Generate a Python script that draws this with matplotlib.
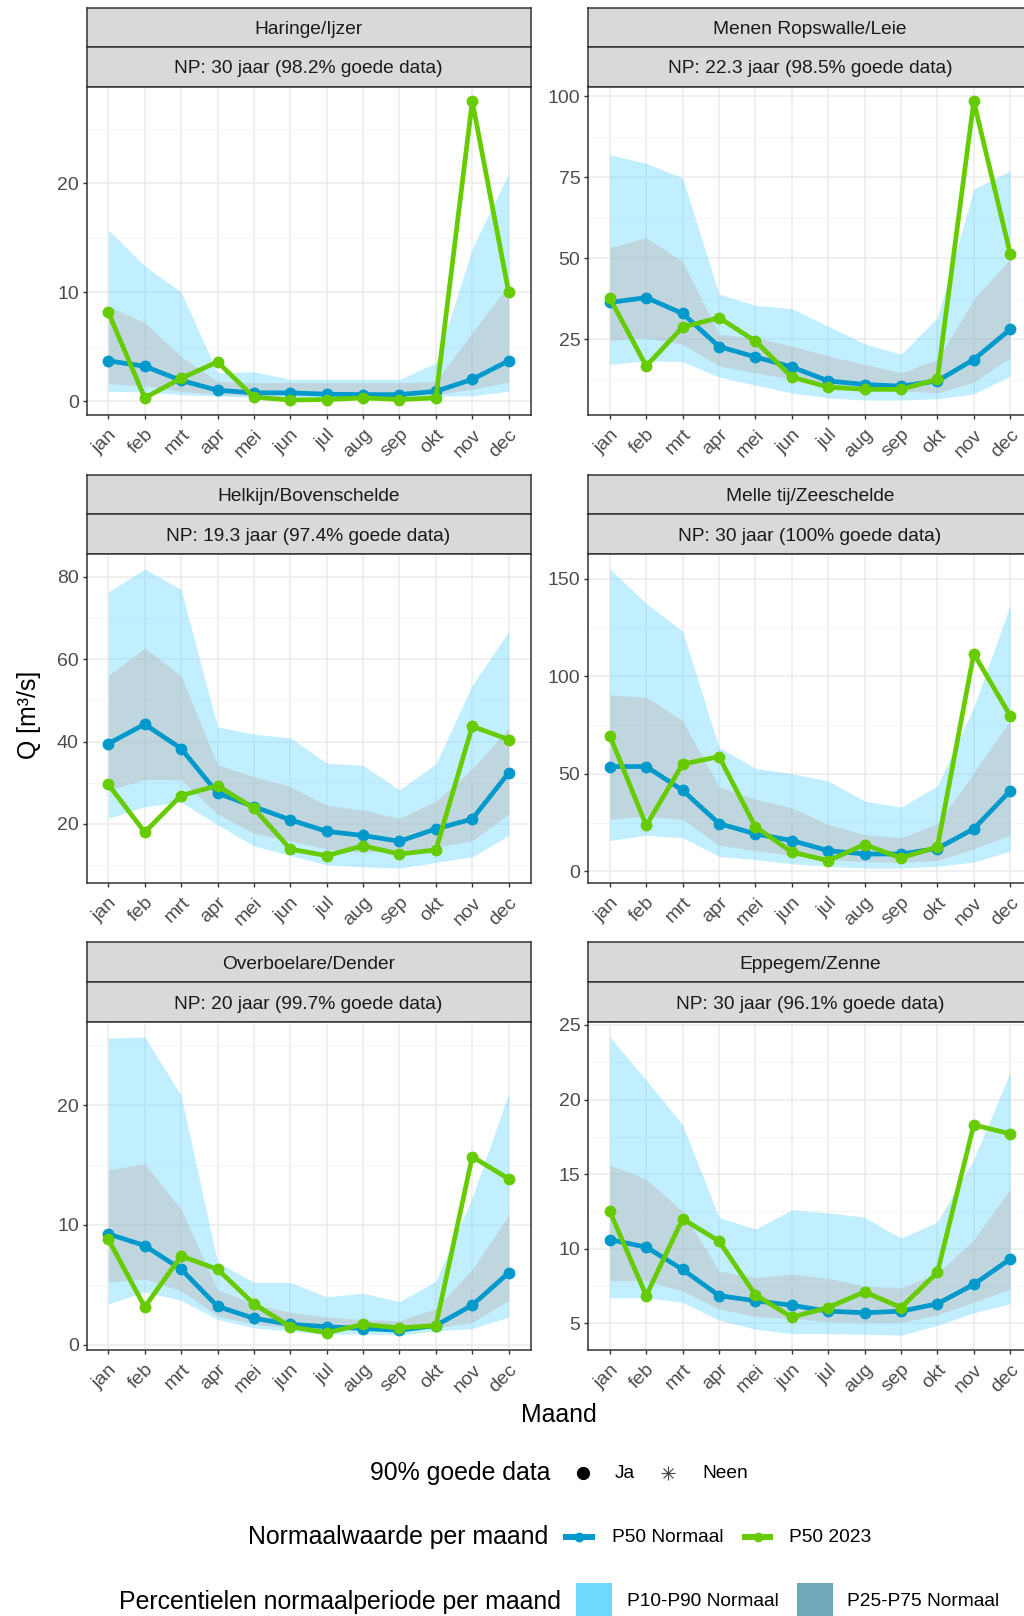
import matplotlib.pyplot as plt
from matplotlib.ticker import MultipleLocator
from matplotlib.patches import Rectangle

plt.rcParams['font.family'] = ['Liberation Sans', 'DejaVu Sans']

maanden = ['jan', 'feb', 'mrt', 'apr', 'mei', 'jun', 'jul', 'aug', 'sep', 'okt', 'nov', 'dec']

stations = ['Haringe/Ijzer', 'Menen Ropswalle/Leie', 'Helkijn/Bovenschelde',
            'Melle tij/Zeeschelde', 'Overboelare/Dender', 'Eppegem/Zenne']
np_labels = ['NP: 30 jaar (98.2% goede data)', 'NP: 22.3 jaar (98.5% goede data)',
             'NP: 19.3 jaar (97.4% goede data)', 'NP: 30 jaar (100% goede data)',
             'NP: 20 jaar (99.7% goede data)', 'NP: 30 jaar (96.1% goede data)']

# P50 normaalperiode
p50_normaal = [
    [3.7, 3.2, 1.9, 1.0, 0.76, 0.76, 0.64, 0.6, 0.6, 0.9, 2.0, 3.7],
    [36.4, 37.9, 33.0, 22.8, 19.6, 16.5, 12.2, 11.1, 10.6, 12.2, 18.8, 28.1],
    [39.5, 44.2, 38.3, 27.5, 24.2, 21.0, 18.2, 17.2, 15.8, 18.8, 21.2, 32.4],
    [53.7, 53.7, 41.5, 24.5, 19.2, 15.8, 10.6, 8.9, 8.9, 11.7, 21.8, 41.2],
    [9.25, 8.27, 6.3, 3.2, 2.2, 1.7, 1.5, 1.35, 1.2, 1.6, 3.3, 6.0],
    [10.6, 10.1, 8.6, 6.85, 6.5, 6.2, 5.8, 5.7, 5.8, 6.3, 7.6, 9.3],
]
# P50 2023
p50_2023 = [
    [8.15, 0.3, 2.1, 3.6, 0.37, 0.1, 0.15, 0.3, 0.15, 0.3, 27.5, 10.0],
    [37.7, 16.8, 28.8, 31.7, 24.5, 13.4, 10.3, 9.6, 9.6, 12.7, 98.4, 51.5],
    [29.6, 18.0, 26.9, 29.3, 23.8, 13.9, 12.3, 14.7, 12.7, 13.7, 43.7, 40.5],
    [69.5, 23.5, 54.9, 58.8, 22.8, 9.9, 5.5, 13.7, 6.9, 12.5, 111.5, 79.8],
    [8.8, 3.15, 7.4, 6.3, 3.4, 1.5, 1.0, 1.7, 1.4, 1.6, 15.7, 13.85],
    [12.5, 6.85, 12.0, 10.5, 6.9, 5.4, 6.05, 7.1, 6.05, 8.4, 18.3, 17.7],
]
p10 = [
    [0.9, 0.85, 0.6, 0.45, 0.37, 0.3, 0.3, 0.3, 0.3, 0.45, 0.5, 0.9],
    [17.3, 18.5, 18.1, 13.4, 10.9, 8.5, 7.0, 6.3, 6.3, 6.7, 8.2, 13.7],
    [21.4, 24.2, 25.3, 19.8, 14.7, 12.3, 10.1, 9.6, 9.3, 10.7, 12.0, 17.2],
    [15.8, 18.5, 17.2, 7.7, 6.0, 3.9, 2.6, 1.7, 1.7, 2.6, 4.8, 10.3],
    [3.4, 4.4, 3.7, 2.1, 1.4, 1.15, 0.85, 0.9, 0.8, 1.15, 1.35, 2.3],
    [6.7, 6.7, 6.4, 5.2, 4.6, 4.3, 4.3, 4.26, 4.2, 4.85, 5.7, 6.3],
]
p90 = [
    [15.7, 12.4, 10.0, 2.6, 2.7, 2.0, 2.0, 2.0, 2.0, 3.5, 14.0, 20.9],
    [82.0, 79.3, 74.8, 39.0, 35.5, 34.5, 29.1, 23.7, 20.4, 31.7, 71.4, 77.0],
    [76.3, 81.9, 76.9, 43.6, 41.8, 40.9, 34.8, 34.2, 28.3, 34.6, 53.7, 66.7],
    [154.9, 137.2, 123.0, 63.5, 52.8, 50.0, 46.3, 36.0, 32.9, 43.7, 84.0, 136.4],
    [25.6, 25.7, 20.8, 6.9, 5.2, 5.2, 4.0, 4.3, 3.6, 5.3, 12.3, 21.0],
    [24.2, 21.3, 18.3, 12.1, 11.3, 12.6, 12.4, 12.1, 10.7, 11.8, 16.0, 21.8],
]
p25 = [
    [1.6, 1.4, 0.9, 0.6, 0.5, 0.5, 0.5, 0.5, 0.5, 0.6, 1.1, 1.75],
    [24.7, 25.5, 23.5, 16.8, 14.7, 12.7, 11.1, 9.6, 9.1, 8.5, 11.8, 19.4],
    [28.1, 30.8, 30.7, 22.4, 17.7, 15.9, 13.9, 13.1, 13.5, 14.3, 15.9, 22.4],
    [26.6, 28.3, 26.6, 13.4, 10.6, 8.2, 6.0, 5.1, 4.6, 5.5, 11.5, 18.5],
    [5.2, 5.5, 4.5, 2.4, 1.7, 1.4, 1.35, 1.3, 1.3, 1.4, 1.85, 3.7],
    [7.85, 7.85, 7.15, 5.95, 5.45, 5.3, 5.1, 5.05, 5.05, 5.55, 6.4, 7.3],
]
p75 = [
    [8.7, 7.2, 4.1, 1.8, 1.7, 1.7, 1.7, 1.7, 1.7, 1.8, 6.3, 10.7],
    [53.3, 56.4, 49.0, 26.6, 25.5, 23.0, 19.9, 17.3, 14.7, 18.8, 37.4, 49.8],
    [56.0, 62.7, 55.9, 34.4, 31.5, 29.1, 24.5, 23.4, 21.4, 25.5, 33.4, 43.2],
    [90.4, 89.2, 77.2, 43.2, 36.9, 32.6, 24.0, 18.9, 17.2, 24.4, 50.6, 77.2],
    [14.6, 15.1, 11.3, 4.6, 3.4, 2.7, 2.3, 2.1, 2.0, 3.0, 6.3, 10.8],
    [15.6, 14.65, 12.5, 8.5, 8.05, 8.3, 8.0, 7.5, 7.35, 8.35, 10.6, 14.0],
]
y_stap = [10, 25, 20, 50, 10, 5]

BLAUW = '#0099CC'
GROEN = '#66CC00'
KLEUR_P10_P90 = '#6DD9FF'
KLEUR_P25_P75 = '#6FA8BB'

W, H = 1024, 1616
fig = plt.figure(figsize=(W / 100, H / 100), dpi=100)


def box(x0, y0, x1, y1):
    # pixel coordinates measured from the top-left corner
    return [x0 / W, 1 - y1 / H, (x1 - x0) / W, (y1 - y0) / H]


cols = [(86.5, 530.5), (588, 1032)]
rows = [(8, 46.5, 86.5, 415), (475, 514, 554, 883), (942, 982, 1022, 1350)]
x = list(range(12))


def strip(x0, x1, y0, y1, label):
    s = fig.add_axes(box(x0, y0, x1, y1))
    s.set_facecolor('#D9D9D9')
    s.set_xticks([])
    s.set_yticks([])
    for sp in s.spines.values():
        sp.set_color('#333333')
        sp.set_linewidth(1.1)
    s.text(0.5, 0.44, label, ha='center', va='center', fontsize=13.8, color='#1A1A1A',
           transform=s.transAxes)


for i in range(6):
    r, c = divmod(i, 2)
    x0, x1 = cols[c]
    t0, t1, t2, t3 = rows[r]
    strip(x0, x1, t0, t1, stations[i])
    strip(x0, x1, t1, t2, np_labels[i])

    ax = fig.add_axes(box(x0, t2, x1, t3))
    ax.set_axisbelow(True)
    ax.fill_between(x, p10[i], p90[i], color=KLEUR_P10_P90, alpha=0.42, lw=0, zorder=1)
    ax.fill_between(x, p25[i], p75[i], color='#BEB2AF', alpha=0.4, lw=0, zorder=2)
    ax.plot(x, p50_normaal[i], color=BLAUW, lw=3.4, marker='o', ms=7.5, zorder=3)
    ax.plot(x, p50_2023[i], color=GROEN, lw=3.4, marker='o', ms=7.5, zorder=4)

    alles = p10[i] + p90[i] + p25[i] + p75[i] + p50_normaal[i] + p50_2023[i]
    lo, hi = min(alles), max(alles)
    pad = 0.05 * (hi - lo)
    ax.set_ylim(lo - pad, hi + pad)
    ax.set_xlim(-0.6, 11.6)
    ax.yaxis.set_major_locator(MultipleLocator(y_stap[i]))
    ax.yaxis.set_minor_locator(MultipleLocator(y_stap[i] / 2))
    ax.set_xticks(x)
    ax.set_xticklabels(maanden, rotation=45, ha='right', va='top', rotation_mode='anchor')

    ax.grid(which='major', color='#EBEBEB', lw=1.1)
    ax.grid(which='minor', axis='y', color='#F3F3F3', lw=0.6)
    ax.tick_params(which='major', length=3, width=1, color='#333333', labelsize=14,
                   labelcolor='#4D4D4D', pad=2.5)
    ax.tick_params(axis='x', pad=5)
    ax.tick_params(which='minor', length=0)
    for sp in ax.spines.values():
        sp.set_color('#333333')
        sp.set_linewidth(1.1)

# overlay in pixel coordinates for titles and legends
ov = fig.add_axes([0, 0, 1, 1], zorder=10)
ov.set_xlim(0, W)
ov.set_ylim(H, 0)
ov.axis('off')
ov.patch.set_alpha(0)

ov.text(29, 715, 'Q [m³/s]', rotation=90, ha='center', va='center', fontsize=17.9)
ov.text(559, 1415, 'Maand', ha='center', va='center', fontsize=17.9)

# legend 1: 90% goede data
y1 = 1473
ov.text(550, y1, '90% goede data', ha='right', va='center', fontsize=17.9)
ov.plot([583], [y1], 'o', color='black', ms=8.5)
ov.text(615, y1, 'Ja', ha='left', va='center', fontsize=13.8)
ov.plot([668], [y1], '+', color='#444444', ms=10, mew=0.8)
ov.plot([668], [y1], 'x', color='#444444', ms=7, mew=0.8)
ov.text(702, y1, 'Neen', ha='left', va='center', fontsize=13.8)

# legend 2: Normaalwaarde per maand
y2 = 1537
ov.text(548, y2, 'Normaalwaarde per maand', ha='right', va='center', fontsize=17.9)
ov.plot([563, 595], [y2, y2], color=BLAUW, lw=4.3, solid_capstyle='butt')
ov.plot([579], [y2], 'o', color=BLAUW, ms=6)
ov.text(612, y2, 'P50 Normaal', ha='left', va='center', fontsize=13.8)
ov.plot([742, 773], [y2, y2], color=GROEN, lw=4.3, solid_capstyle='butt')
ov.plot([757.5], [y2], 'o', color=GROEN, ms=6)
ov.text(789, y2, 'P50 2023', ha='left', va='center', fontsize=13.8)

# legend 3: Percentielen normaalperiode per maand
y3 = 1602
ov.text(561, y3, 'Percentielen normaalperiode per maand', ha='right', va='center', fontsize=17.9)
ov.add_patch(Rectangle((576, 1583), 36, 38, color=KLEUR_P10_P90, lw=0))
ov.text(627, y3, 'P10-P90 Normaal', ha='left', va='center', fontsize=13.8)
ov.add_patch(Rectangle((797, 1583), 36, 38, color=KLEUR_P25_P75, lw=0))
ov.text(847, y3, 'P25-P75 Normaal', ha='left', va='center', fontsize=13.8)

fig.savefig('out.png', dpi=100, facecolor='white')
